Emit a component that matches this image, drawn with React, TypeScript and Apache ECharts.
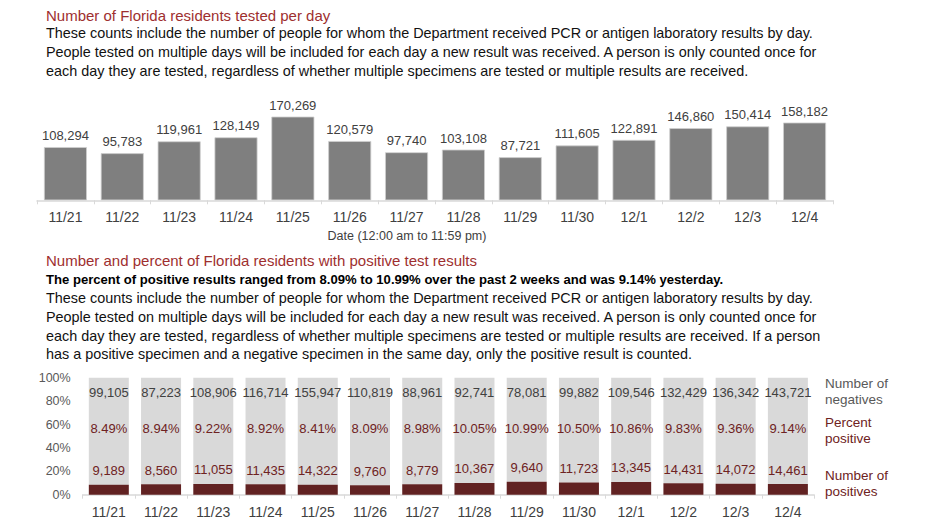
import React, { useEffect, useRef } from "react";
import * as echarts from "echarts";

const dates = ["11/21", "11/22", "11/23", "11/24", "11/25", "11/26", "11/27", "11/28", "11/29", "11/30", "12/1", "12/2", "12/3", "12/4"];
const testedPerDay = [108294, 95783, 119961, 128149, 170269, 120579, 97740, 103108, 87721, 111605, 122891, 146860, 150414, 158182];
const negatives = [99105, 87223, 108906, 116714, 155947, 110819, 88961, 92741, 78081, 99882, 109546, 132429, 136342, 143721];
const positives = [9189, 8560, 11055, 11435, 14322, 9760, 8779, 10367, 9640, 11723, 13345, 14431, 14072, 14461];
const percentPositive = ["8.49", "8.94", "9.22", "8.92", "8.41", "8.09", "8.98", "10.05", "10.99", "10.50", "10.86", "9.83", "9.36", "9.14"];
const pctTicks = [0, 20, 40, 60, 80, 100];

const title1 = "Number of Florida residents tested per day";
const body1 = [
  "These counts include the number of people for whom the Department received PCR or antigen laboratory results by day.",
  "People tested on multiple days will be included for each day a new result was received. A person is only counted once for",
  "each day they are tested, regardless of whether multiple specimens are tested or multiple results are received.",
];
const title2 = "Number and percent of Florida residents with positive test results";
const bold2 = "The percent of positive results ranged from 8.09% to 10.99% over the past 2 weeks and was 9.14% yesterday.";
const body2 = [
  "These counts include the number of people for whom the Department received PCR or antigen laboratory results by day.",
  "People tested on multiple days will be included for each day a new result was received. A person is only counted once for",
  "each day they are tested, regardless of whether multiple specimens are tested or multiple results are received. If a person",
  "has a positive specimen and a negative specimen in the same day, only the positive result is counted.",
];
const axisName1 = "Date (12:00 am to 11:59 pm)";
const legendNeg = ["Number of", "negatives"];
const legendPct = ["Percent", "positive"];
const legendPos = ["Number of", "positives"];

const FONT = "'Liberation Sans', Arial, sans-serif";
const RED_TITLE = "#9e2f2f";
const DARK_RED = "#6e2222";
const BAR_RED = "#612222";
const GRAY_TEXT = "#404040";

const fmt = (v: number) => v.toLocaleString("en-US");

function txt(text: string, x: number, y: number, style: any = {}) {
  return {
    type: "text",
    x,
    y,
    style: {
      text,
      fontFamily: FONT,
      fontSize: 14.4,
      fill: "#111",
      verticalAlign: "middle",
      align: "left",
      ...style,
    },
  };
}

export default function App() {
  const ref = useRef<HTMLDivElement>(null);
  useEffect(() => {
    if (!ref.current) return;
    const chart = echarts.init(ref.current, undefined, { renderer: "svg" });
    const posPct = positives.map((p, i) => (p / (p + negatives[i])) * 100);
    const negPct = posPct.map((p) => 100 - p);

    const graphics: any[] = [];
    graphics.push(txt(title1, 46, 15, { fontSize: 15, fill: RED_TITLE }));
    body1.forEach((l, i) => graphics.push(txt(l, 46, 33 + i * 19)));
    graphics.push(txt(title2, 46, 260, { fontSize: 15, fill: RED_TITLE }));
    graphics.push(txt(bold2, 46, 279, { fontWeight: "bold", fontSize: 13.1, fill: "#000" }));
    body2.forEach((l, i) => graphics.push(txt(l, 46, 298 + i * 18.8)));
    graphics.push(txt(axisName1, 407, 236, { align: "center", fontSize: 12.5, fill: GRAY_TEXT }));
    legendNeg.forEach((l, i) => graphics.push(txt(l, 825, 383 + i * 16, { fontSize: 13.5, fill: "#595959" })));
    legendPct.forEach((l, i) => graphics.push(txt(l, 825, 422 + i * 16, { fontSize: 13.5, fill: DARK_RED })));
    legendPos.forEach((l, i) => graphics.push(txt(l, 825, 475 + i * 16, { fontSize: 13.5, fill: DARK_RED })));

    const xAxisCommon = {
      type: "category",
      data: dates,
      axisLine: { lineStyle: { color: "#d9d9d9", width: 1.5 } },
      axisTick: { show: true, length: 4, lineStyle: { color: "#d9d9d9" } },
      axisLabel: { color: GRAY_TEXT, fontSize: 14, fontFamily: FONT },
    };

    chart.setOption({
      animation: false,
      backgroundColor: "#fff",
      textStyle: { fontFamily: FONT },
      grid: [
        { left: 37, right: 99, top: 102, bottom: 323.7 },
        { left: 82.7, right: 118, top: 377.7, bottom: 29.3 },
      ],
      xAxis: [
        { ...xAxisCommon, gridIndex: 0, axisLabel: { ...xAxisCommon.axisLabel, margin: 10 } },
        { ...xAxisCommon, gridIndex: 1, axisLabel: { ...xAxisCommon.axisLabel, margin: 10 } },
      ],
      yAxis: [
        { type: "value", gridIndex: 0, min: 0, max: 200000, show: false, splitLine: { show: false } },
        {
          type: "value",
          gridIndex: 1,
          min: pctTicks[0],
          max: pctTicks[pctTicks.length - 1],
          interval: 20,
          splitLine: { show: false },
          axisLine: { show: false },
          axisTick: { show: false },
          axisLabel: { formatter: "{value}%", color: "#595959", fontSize: 12.5, fontFamily: FONT, margin: 12 },
        },
      ],
      series: [
        {
          type: "bar",
          xAxisIndex: 0,
          yAxisIndex: 0,
          data: testedPerDay,
          barWidth: 43,
          itemStyle: { color: "#7f7f7f", borderColor: "#cfcfcf", borderWidth: 0.8 },
          label: {
            show: true,
            position: "top",
            distance: 5,
            color: GRAY_TEXT,
            fontSize: 13,
            fontFamily: FONT,
            formatter: (p: any) => fmt(p.value),
          },
        },
        {
          type: "bar",
          xAxisIndex: 1,
          yAxisIndex: 1,
          stack: "t",
          data: posPct,
          barWidth: 40,
          itemStyle: { color: BAR_RED },
          label: {
            show: true,
            position: "top",
            distance: 7.5,
            color: DARK_RED,
            fontSize: 13,
            fontFamily: FONT,
            formatter: (p: any) => fmt(positives[p.dataIndex]),
          },
          z: 3,
        },
        {
          type: "bar",
          xAxisIndex: 1,
          yAxisIndex: 1,
          stack: "t",
          data: negPct,
          barWidth: 40,
          itemStyle: { color: "#d9d9d9" },
          label: {
            show: true,
            position: "insideTop",
            distance: 5,
            fontFamily: FONT,
            formatter: (p: any) => `{n|${fmt(negatives[p.dataIndex])}}\n{p|${percentPositive[p.dataIndex]}%}`,
            rich: {
              n: { color: GRAY_TEXT, fontSize: 13, lineHeight: 20, fontFamily: FONT },
              p: { color: DARK_RED, fontSize: 13, lineHeight: 51, fontFamily: FONT },
            },
          },
          z: 2,
        },
      ],
      graphic: graphics,
    });
    return () => chart.dispose();
  }, []);
  return (
    <div
      ref={ref}
      style={{ position: "fixed", left: 0, top: 0, width: 932, height: 524, background: "#fff" }}
    />
  );
}
